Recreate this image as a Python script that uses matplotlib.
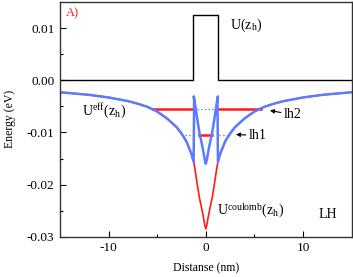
import numpy as np
import matplotlib
matplotlib.use('Agg')
import matplotlib.pyplot as plt

plt.rcParams['font.family'] = ['Liberation Serif', 'DejaVu Serif']
plt.rcParams['mathtext.fontset'] = 'stix'
plt.rcParams['font.size'] = 8

#-----------------------------------------------------------------------------------------------------------------------
# Data (symmetric around z = 0)
#-----------------------------------------------------------------------------------------------------------------------
# barrier U(z_h)
z_barrier = [-15, -1.27, -1.27, 1.27, 1.27, 15]
u_barrier = [0.0, 0.0, 0.0125, 0.0125, 0.0, 0.0]

# coulomb part, half curve z >= 0
z_half = [0.0, 0.1, 0.25, 0.45, 0.65, 0.9, 1.1, 1.25, 1.5, 2.0, 2.5, 3.0, 4.0, 5.0, 6.0, 7.0, 8.0, 10.0, 12.0, 15.0]
u_coul_half = [-0.0285, -0.0278, -0.0262, -0.0243, -0.0226, -0.0197, -0.0172, -0.0156, -0.0140, -0.0117,
               -0.0102, -0.0090, -0.0073, -0.0060, -0.0051, -0.0045, -0.0040, -0.0033, -0.0028, -0.0023]
barrier_height = 0.0125
well_edge = 1.25

# levels
lh2_energy = -0.00555
lh2_ends = [-5.48, -1.27, 1.27, 5.66]
lh2_dots = [-0.86, 0.93]
lh1_energy = -0.0104
lh1_ends = [-0.69, 0.59]
lh1_dots = [[-2.15, -1.4], [1.37, 2.2]]

#-----------------------------------------------------------------------------------------------------------------------
# Build curves
#-----------------------------------------------------------------------------------------------------------------------
z_half = np.array(z_half)
u_coul_half = np.array(u_coul_half)
z_full = np.concatenate((-z_half[::-1], z_half[1:]))
u_coul = np.concatenate((u_coul_half[::-1], u_coul_half[1:]))

inside = z_half <= well_edge
z_in = z_half[inside]
u_in = u_coul_half[inside] + barrier_height
z_out = z_half[~inside]
u_out = u_coul_half[~inside]
z_eff = np.concatenate((-z_out[::-1], [-well_edge, -1.2], -z_in[::-1], z_in[1:], [1.2, well_edge], z_out))
u_eff = np.concatenate((u_out[::-1], [u_coul_half[inside][-1], u_in[-1] - 0.0004], u_in[::-1], u_in[1:],
                        [u_in[-1] - 0.0004, u_coul_half[inside][-1]], u_out))

#-----------------------------------------------------------------------------------------------------------------------
# Plot
#-----------------------------------------------------------------------------------------------------------------------
fig = plt.figure(figsize=(3.53, 2.77), dpi=100)
ax = fig.add_axes([0.170, 0.145, 0.826, 0.848])

red = '#ff1a1a'
blue = '#5b7cff'

ax.plot(z_barrier, u_barrier, color='black', lw=1.0)
ax.plot(z_full, u_coul, color=red, lw=1.2)

ax.plot([lh2_ends[0], lh2_ends[1]], [lh2_energy, lh2_energy], color=red, lw=1.8)
ax.plot([lh2_ends[2], lh2_ends[3]], [lh2_energy, lh2_energy], color=red, lw=1.8)
ax.plot(lh2_dots, [lh2_energy, lh2_energy], color='gray', lw=1.0, ls=':')
ax.plot(lh1_ends, [lh1_energy, lh1_energy], color=red, lw=1.8)
for d in lh1_dots:
    ax.plot(d, [lh1_energy, lh1_energy], color='gray', lw=1.0, ls=':')

ax.plot(z_eff, u_eff, color=blue, lw=1.8)

# labels
fs = 10
ax.text(-14.4, 0.0123, 'A)', color=red, fontsize=9)
ax.text(2.5, 0.0105, r'U(z$_\mathregular{h}$)', fontsize=fs, va='center')
ax.text(-12.7, -0.0059, r'U$^\mathregular{eff}$(z$_\mathregular{h}$)', fontsize=fs, va='center')
ax.text(1.2, -0.0251, r'U$^\mathregular{coulomb}$(z$_\mathregular{h}$)', fontsize=fs, va='center')
ax.text(11.6, -0.0257, 'LH', fontsize=fs, va='center')
ax.annotate('lh2', xy=(6.6, -0.0058), xytext=(8.0, -0.0066), fontsize=fs, va='center',
            arrowprops=dict(arrowstyle='-|>', color='black', lw=0.8, mutation_scale=6,
                            shrinkA=0, shrinkB=0))
ax.annotate('lh1', xy=(3.1, -0.0104), xytext=(4.4, -0.0106), fontsize=fs, va='center',
            arrowprops=dict(arrowstyle='-|>', color='black', lw=0.8, mutation_scale=6,
                            shrinkA=0, shrinkB=0))

ax.set_xlim(-15, 15)
ax.set_ylim(-0.03, 0.015)
ax.set_xticks([-10, 0, 10])
ax.set_xticks([-5, 5], minor=True)
ax.set_yticks([-0.03, -0.02, -0.01, 0.0, 0.01])
ax.set_yticks([-0.025, -0.015, -0.005, 0.005], minor=True)
ax.set_yticklabels(['-0.03', '-0.02', '-0.01', '0.00', '0.01'])
ax.set_xticklabels(['-10', '0', '10'])
ax.tick_params(direction='in', which='major', length=4, width=0.8, labelsize=9.5, pad=4)
ax.tick_params(direction='in', which='minor', length=2, width=0.8)
for s in ax.spines.values():
    s.set_color('#333333')
    s.set_linewidth(1.0)

ax.set_xlabel('Distanse (nm)', fontsize=8.5, labelpad=6)
ax.set_ylabel('Energy (eV)', fontsize=8.5, labelpad=8)

fig.savefig('out.png', dpi=100)
